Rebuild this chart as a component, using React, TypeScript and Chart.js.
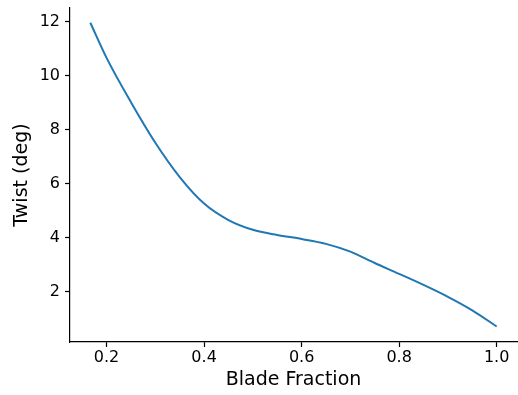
import React, { useEffect, useRef } from "react";
import { Chart, registerables } from "chart.js";

Chart.register(...registerables);

const bladeFraction = [0.1667, 0.2, 0.25, 0.3, 0.35, 0.4, 0.45, 0.5, 0.55, 0.6, 0.65, 0.7, 0.75, 0.8, 0.85, 0.9, 0.95, 1.0];
const twistDeg = [11.96, 10.66, 9.02, 7.52, 6.25, 5.27, 4.66, 4.3, 4.11, 3.96, 3.78, 3.49, 3.07, 2.67, 2.26, 1.82, 1.32, 0.72];
const xTicks = [0.2, 0.4, 0.6, 0.8, 1.0];
const yTicks = [2, 4, 6, 8, 10, 12];

const FONT = "'DejaVu Sans', sans-serif";

export default function App() {
  const ref = useRef<HTMLCanvasElement | null>(null);

  useEffect(() => {
    if (!ref.current) return;
    const chart = new Chart(ref.current, {
      type: "line",
      data: {
        datasets: [
          {
            data: bladeFraction.map((x, i) => ({ x, y: twistDeg[i] })),
            borderColor: "#1f77b4",
            borderWidth: 2,
            pointRadius: 0,
            cubicInterpolationMode: "monotone",
            fill: false,
          },
        ],
      },
      options: {
        animation: false,
        responsive: false,
        layout: { padding: { top: 8, right: 1, left: 0, bottom: 0 } },
        plugins: { legend: { display: false }, tooltip: { enabled: false } },
        scales: {
          x: {
            type: "linear",
            min: 0.125,
            max: 1.0417,
            afterBuildTicks: (s: any) => {
              s.ticks = xTicks.map((v) => ({ value: v }));
            },
            afterFit: (s: any) => {
              s.height = 53;
              s.paddingLeft = 0;
              s.paddingRight = 0;
            },
            ticks: {
              font: { family: FONT, size: 16 },
              color: "#000",
              padding: 1,
              maxRotation: 0,
              callback: (v: any) => Number(v).toFixed(1),
            },
            grid: { drawOnChartArea: false, tickColor: "#000", tickLength: 5, tickWidth: 1.2 },
            border: { display: true, color: "#000", width: 1.2 },
            title: {
              display: true,
              text: "Blade Fraction",
              font: { family: FONT, size: 19 },
              color: "#000",
              padding: { top: 0, bottom: 3.5 },
            },
          },
          y: {
            type: "linear",
            min: 0.148,
            max: 12.507,
            afterBuildTicks: (s: any) => {
              s.ticks = yTicks.map((v) => ({ value: v }));
            },
            afterFit: (s: any) => {
              s.width = 70;
              s.paddingTop = 0;
              s.paddingBottom = 0;
            },
            ticks: {
              font: { family: FONT, size: 16 },
              color: "#000",
              padding: 5,
              callback: (v: any) => String(v),
            },
            grid: { drawOnChartArea: false, tickColor: "#000", tickLength: 5, tickWidth: 1.2 },
            border: { display: true, color: "#000", width: 1.2 },
            title: {
              display: true,
              text: "Twist (deg)",
              font: { family: FONT, size: 19 },
              color: "#000",
              padding: { top: 11, bottom: 0 },
            },
          },
        },
      },
    } as any);
    return () => chart.destroy();
  }, []);

  return (
    <div style={{ position: "absolute", left: 0, top: 0, width: 518, height: 395, background: "#fff" }}>
      <canvas ref={ref} width={518} height={395} style={{ display: "block" }} />
    </div>
  );
}
